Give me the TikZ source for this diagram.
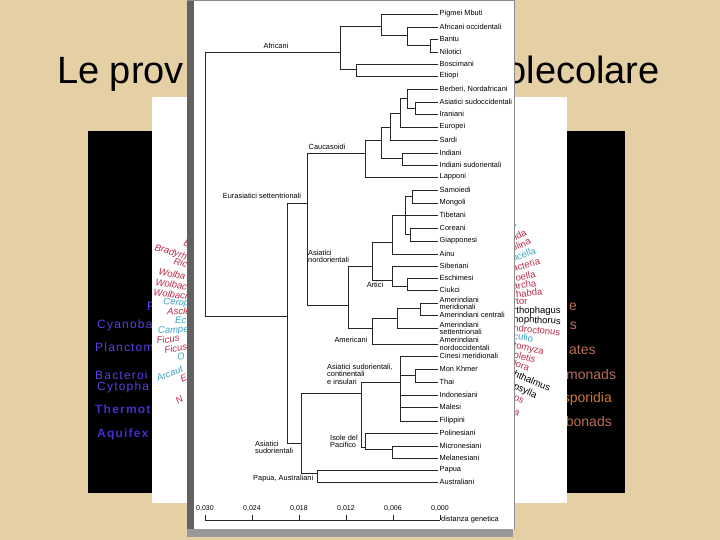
\documentclass[tikz,border=0pt]{standalone}
\usepackage{fontspec}
\setmainfont{Liberation Sans}
\definecolor{parch}{RGB}{229,208,166}
\definecolor{tred}{RGB}{185,45,75}
\definecolor{tteal}{RGB}{60,165,195}
\definecolor{bblue}{RGB}{85,65,230}
\definecolor{bblued}{RGB}{70,45,205}
\definecolor{bbrown}{RGB}{185,110,90}
\newcommand\treefont{\fontsize{7.4}{7.3}\selectfont}
\newcommand\axfont{\fontsize{7}{7}\selectfont}
\newcommand\bluefont{\fontsize{12}{11}\selectfont\addfontfeature{LetterSpace=10}}
\begin{document}
\begin{tikzpicture}[x=1pt,y=-1pt,
  leaf/.style={anchor=west,inner xsep=1.5pt,inner ysep=0pt,font=\treefont,align=left},
  grp/.style={inner sep=0pt,font=\treefont,align=left},
  tl/.style={line width=0.7pt,draw=black!85},
  blab/.style={inner sep=0pt,anchor=base west,font=\bluefont,text=bblue},
  rlab/.style={inner sep=0pt,anchor=base east,font=\fontsize{14}{11}\selectfont,text=bbrown},
  llab/.style={inner sep=0pt,anchor=base west,font=\fontsize{9.5}{10}\selectfont\itshape},
  qlab/.style={inner sep=0pt,anchor=base west,font=\fontsize{9.5}{10}\selectfont},
  ttl/.style={inner sep=0pt,font=\fontsize{38}{40}\selectfont},
]
\useasboundingbox (0,0) rectangle (720,540);
\fill[parch] (0,0) rectangle (720,540);
% title (the parts not hidden by the pictures)
\node[ttl,anchor=base west] (title1) at (57,84) {Le prov};
\node[ttl,anchor=base east] (title2) at (660,84) {olecolare};
% black picture
\fill[black] (88,131) rectangle (625,493);
\node[blab] (b0) at (147,310) {F};
\node[blab] (b1) at (97,328) {Cyanoba};
\node[blab] (b2) at (95,351) {Planctom};
\node[blab] (b3) at (95,379) {Bacteroi};
\node[blab] (b4) at (97,390) {Cytopha};
\node[blab,font=\bluefont\bfseries,text=bblued] (b5) at (95,413) {Thermot};
\node[blab,font=\bluefont\bfseries,text=bblued] (b6) at (97,437) {Aquifex};
\node[rlab] (r0) at (577,310) {e};
\node[rlab] (r1) at (577,329) {s};
\node[rlab,anchor=base west] (r2) at (569,354) {ates};
\node[rlab,anchor=base west] (r3) at (566,379) {monads};
\node[rlab,text={rgb,255:red,200;green,120;blue,60}] (r4) at (612,402) {sporidia};
\node[rlab] (r5) at (612,426) {bonads};
% white picture
\fill[white] (152,97) rectangle (567,503);
\node[llab,text=tred,rotate=-20] (c1) at (183,245) {B};
\node[llab,text=tred,rotate=-17] (c2) at (154,250) {Bradyrh};
\node[llab,text=tred,rotate=-15] (c3) at (173,264) {Ric};
\node[llab,text=tred,rotate=-13] (c4) at (158,274) {Wolba};
\node[llab,text=tred,rotate=-10] (c5) at (155,285) {Wolbac};
\node[llab,text=tred,rotate=-8] (c6) at (153,295) {Wolbaci};
\node[llab,text=tteal,rotate=-5] (c7) at (163,304) {Cerop};
\node[llab,text=tred,rotate=-3] (c8) at (167,314) {Ascle};
\node[llab,text=tteal] (c9) at (175,323) {Ec};
\node[llab,text=tteal,rotate=3] (c10) at (158,334) {Campe};
\node[llab,text=tred,rotate=7] (c11) at (157,344) {Ficus};
\node[llab,text=tred,rotate=10] (c12) at (165,354) {Ficus};
\node[llab,text=tteal,rotate=13] (c13) at (178,361) {O};
\node[llab,text=tteal,rotate=22] (c14) at (158,382) {Arcaut};
\node[llab,text=tred,rotate=25] (c15) at (182,383) {E};
\node[llab,text=tred,rotate=32] (c16) at (178,405) {N};
\node[qlab,text=tteal,rotate=30] (d1) at (513,229) {s};
\node[qlab,text=tred,rotate=27] (d2) at (513,242) {rida};
\node[qlab,text=tred,rotate=24] (d3) at (513,252) {olina};
\node[qlab,text=tteal,rotate=20] (d4) at (513,262) {ucella};
\node[qlab,text=tred,rotate=16] (d5) at (513,272) {acteria};
\node[qlab,text=tred,rotate=12] (d6) at (513,282) {roella};
\node[qlab,text=tred,rotate=9] (d7) at (513,290) {archa};
\node[qlab,text=tred,rotate=6] (d8) at (513,298) {rhabda};
\node[qlab,text=tred,rotate=3] (d9) at (513,305) {rtor};
\node[qlab,text=black] (d10) at (513,313) {rthophagus};
\node[qlab,text=black,rotate=-3] (d11) at (513,322) {nophthorus};
\node[qlab,text=tred,rotate=-6] (d12) at (513,331) {ndroctonus};
\node[qlab,text=tteal,rotate=-9] (d13) at (513,339) {culio};
\node[qlab,text=tred,rotate=-13] (d14) at (513,348) {tomyza};
\node[qlab,text=tred,rotate=-16] (d15) at (513,357) {oletis};
\node[qlab,text=tred,rotate=-19] (d16) at (513,366) {lora};
\node[qlab,text=black,rotate=-23] (d17) at (513,376) {hthalmus};
\node[qlab,text=black,rotate=-26] (d18) at (513,388) {psylla};
\node[qlab,text=tred,rotate=-29] (d19) at (513,399) {os};
\node[qlab,text=tred,rotate=-33] (d20) at (513,413) {a};
% front picture
\fill[white] (190,0) rectangle (514,530);
\fill[black!62] (187,0) rectangle (194,537);
\fill[black!40] (187,529) rectangle (513,537);
\draw[black!45,line width=1pt] (514,0) -- (514,530);
\draw[black!45,line width=1pt] (187,0.5) -- (514,0.5);
% leaves
\node[leaf] (l1) at (438,14) {Pigmei Mbuti};
\node[leaf] (l2) at (438,27) {Africani occidentali};
\node[leaf] (l3) at (438,39) {Bantu};
\node[leaf] (l4) at (438,52) {Nilotici};
\node[leaf] (l5) at (438,64) {Boscimani};
\node[leaf] (l6) at (438,76) {Etiopi};
\node[leaf] (l7) at (438,89) {Berberi, Nordafricani};
\node[leaf] (l8) at (438,102) {Asiatici sudoccidentali};
\node[leaf] (l9) at (438,114) {Iraniani};
\node[leaf] (l10) at (438,127) {Europei};
\node[leaf] (l11) at (438,140) {Sardi};
\node[leaf] (l12) at (438,153) {Indiani};
\node[leaf] (l13) at (438,165) {Indiani sudorientali};
\node[leaf] (l14) at (438,177) {Lapponi};
\node[leaf] (l15) at (438,190) {Samoiedi};
\node[leaf] (l16) at (438,203) {Mongoli};
\node[leaf] (l17) at (438,215) {Tibetani};
\node[leaf] (l18) at (438,228) {Coreani};
\node[leaf] (l19) at (438,241) {Giapponesi};
\node[leaf] (l20) at (438,254) {Ainu};
\node[leaf] (l21) at (438,266) {Siberiani};
\node[leaf] (l22) at (438,278) {Eschimesi};
\node[leaf] (l23) at (438,290) {Ciukci};
\node[leaf] (l24) at (438,303.5) {Amerindiani\\meridionali};
\node[leaf] (l25) at (438,315) {Amerindiani centrali};
\node[leaf] (l26) at (438,328.5) {Amerindiani\\settentrionali};
\node[leaf] (l27) at (438,344) {Amerindiani\\nordoccidentali};
\node[leaf] (l28) at (438,356) {Cinesi meridionali};
\node[leaf] (l29) at (438,369) {Mon Khmer};
\node[leaf] (l30) at (438,382) {Thai};
\node[leaf] (l31) at (438,395) {Indonesiani};
\node[leaf] (l32) at (438,407) {Malesi};
\node[leaf] (l33) at (438,421) {Filippini};
\node[leaf] (l34) at (438,433) {Polinesiani};
\node[leaf] (l35) at (438,446) {Micronesiani};
\node[leaf] (l36) at (438,458) {Melanesiani};
\node[leaf] (l37) at (438,470) {Papua};
\node[leaf] (l38) at (438,482) {Australiani};
% internal nodes
\coordinate (nR) at (205,52);
\coordinate (nAF) at (340,52);
\coordinate (nPA) at (381,26);
\coordinate (nAO) at (407,35);
\coordinate (nBN) at (430,45.5);
\coordinate (nBE) at (356,69);
\coordinate (nN) at (287,316);
\coordinate (nES) at (307,203);
\coordinate (nC) at (365,153);
\coordinate (nX5) at (381,140);
\coordinate (nS) at (390,127);
\coordinate (nBE2) at (400,113);
\coordinate (nBA) at (407,98);
\coordinate (nAI) at (415,108);
\coordinate (nIN) at (402,158);
\coordinate (nNE) at (348,305);
\coordinate (nNE2) at (372,266);
\coordinate (nNA) at (392,242);
\coordinate (nT) at (405,215);
\coordinate (nSM) at (412,196.5);
\coordinate (nCG) at (410,234.5);
\coordinate (nAR) at (392,280);
\coordinate (nEC) at (407,286);
\coordinate (nAm) at (372,328);
\coordinate (nAmS) at (397,318);
\coordinate (nMC) at (420,308);
\coordinate (nSE) at (301,443);
\coordinate (nSEI) at (361,393);
\coordinate (nSEC) at (400,382);
\coordinate (nMT) at (415,375.5);
\coordinate (nPAC) at (365,447);
\coordinate (nMM) at (392,449);
\coordinate (nPAu) at (317,473);
\foreach \p/\c in {nR/nAF,nR/nN,nAF/nPA,nAF/nBE,nPA/l1.west,nPA/nAO,nAO/l2.west,nAO/nBN,
  nBN/l3.west,nBN/l4.west,nBE/l5.west,nBE/l6.west,nN/nES,nN/nSE,nES/nC,nES/nNE,
  nC/nX5,nC/l14.west,nX5/nS,nX5/nIN,nS/nBE2,nS/l11.west,nBE2/nBA,nBE2/l10.west,
  nBA/l7.west,nBA/nAI,nAI/l8.west,nAI/l9.west,nIN/l12.west,nIN/l13.west,
  nNE/nNE2,nNE/nAm,nNE2/nNA,nNE2/nAR,nNA/nT,nNA/l20.west,nT/nSM,nT/l17.west,nT/nCG,
  nSM/l15.west,nSM/l16.west,nCG/l18.west,nCG/l19.west,nAR/l21.west,nAR/nEC,
  nEC/l22.west,nEC/l23.west,nAm/nAmS,nAm/l27.west,nAmS/nMC,nAmS/l26.west,
  nMC/l24.west,nMC/l25.west,nSE/nSEI,nSE/nPAu,nSEI/nSEC,nSEI/nPAC,
  nSEC/l28.west,nSEC/nMT,nSEC/l31.west,nSEC/l32.west,nSEC/l33.west,
  nMT/l29.west,nMT/l30.west,nPAC/l34.west,nPAC/nMM,nMM/l35.west,nMM/l36.west,
  nPAu/l37.west,nPAu/l38.west}
  \draw[tl] (\p) |- (\c);
% group labels
\node[grp,anchor=base] (gAf) at (276,49) {Africani};
\node[grp,anchor=base] (gCa) at (327,150) {Caucasoidi};
\node[grp,anchor=base] (gEu) at (262,199) {Eurasiatici settentrionali};
\node[grp,anchor=north west] (gNE) at (308,250) {Asiatici\\nordorientali};
\node[grp,anchor=base] (gAr) at (375,287) {Artici};
\node[grp,anchor=base] (gAm) at (351,342) {Americani};
\node[grp,anchor=north west] (gSC) at (327,364) {Asiatici sudorientali,\\continentali\\e insulari};
\node[grp,anchor=north west] (gIP) at (330,435) {Isole del\\Pacifico};
\node[grp,anchor=north west] (gSE) at (255,441) {Asiatici\\sudorientali};
\node[grp,anchor=base west] (gPA) at (253,480) {Papua, Australiani};
% axis
\draw[tl] (205,520) -- (440,520);
\foreach \i in {0,...,5} \draw[tl] (205+47*\i,520) -- ++(0,-5);
\node[grp,font=\axfont,anchor=base] (a0) at (205,510) {0,030};
\node[grp,font=\axfont,anchor=base] (a1) at (252,510) {0,024};
\node[grp,font=\axfont,anchor=base] (a2) at (299,510) {0,018};
\node[grp,font=\axfont,anchor=base] (a3) at (346,510) {0,012};
\node[grp,font=\axfont,anchor=base] (a4) at (393,510) {0,006};
\node[grp,font=\axfont,anchor=base] (a5) at (440,510) {0,000};
\node[grp,anchor=west] (ax) at (441,520) {distanza genetica};
\end{tikzpicture}
\end{document}
